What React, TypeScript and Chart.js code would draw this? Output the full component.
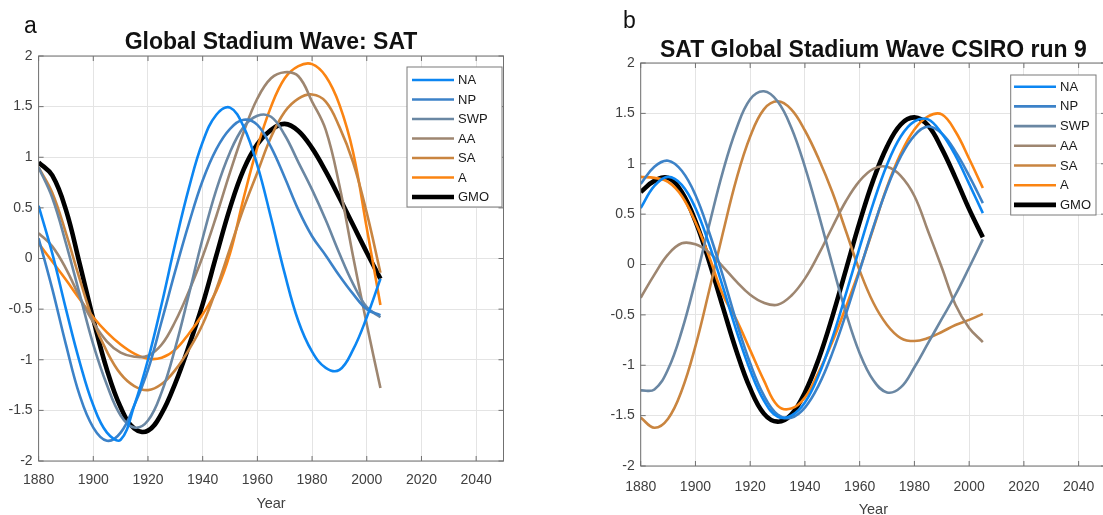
import React, { useEffect, useRef } from "react";
import { Chart, registerables } from "chart.js";

Chart.register(...registerables);

const FONT = "'Liberation Sans', Arial, Helvetica, sans-serif";

const YEARS = [1880, 1885, 1890, 1895, 1900, 1905, 1910, 1915, 1920, 1925, 1930, 1935, 1940, 1945, 1950, 1955, 1960, 1965, 1970, 1975, 1980, 1985, 1990, 1995, 2000, 2005];

const SERIES_NAMES = ["NA", "NP", "SWP", "AA", "SA", "A", "GMO"];
const SERIES_COLORS = ["#0c86f2", "#3c82c8", "#6a87a3", "#9e8670", "#c98540", "#fb8412", "#000000"];
const SERIES_WIDTHS = [2.6, 2.6, 2.6, 2.6, 2.6, 2.6, 4.6];

const X_TICKS = [1880, 1900, 1920, 1940, 1960, 1980, 2000, 2020, 2040];
const Y_TICKS = [-2, -1.5, -1, -0.5, 0, 0.5, 1, 1.5, 2];

// Panel a: Global Stadium Wave: SAT
const A_NA = [0.52, 0.05, -0.5, -1.02, -1.45, -1.72, -1.79, -1.45, -1.0, -0.45, 0.15, 0.7, 1.15, 1.42, 1.49, 1.3, 0.92, 0.4, -0.15, -0.62, -0.92, -1.08, -1.1, -0.9, -0.58, -0.2];
const A_NP = [0.2, -0.3, -0.85, -1.35, -1.67, -1.8, -1.72, -1.45, -1.1, -0.62, -0.12, 0.35, 0.77, 1.08, 1.28, 1.37, 1.32, 1.1, 0.8, 0.48, 0.22, 0.03, -0.17, -0.35, -0.5, -0.56];
const A_SWP = [0.9, 0.6, 0.15, -0.35, -0.85, -1.25, -1.55, -1.67, -1.6, -1.32, -0.88, -0.35, 0.2, 0.68, 1.05, 1.3, 1.41, 1.4, 1.22, 0.95, 0.68, 0.38, 0.05, -0.25, -0.48, -0.58];
const A_AA = [0.25, 0.12, -0.1, -0.38, -0.63, -0.82, -0.93, -0.97, -0.96, -0.85, -0.62, -0.32, 0.02, 0.42, 0.85, 1.25, 1.58, 1.78, 1.84, 1.8, 1.55, 1.27, 0.72, 0.02, -0.65, -1.28];
const A_SA = [0.9, 0.65, 0.25, -0.2, -0.62, -0.92, -1.14, -1.26, -1.3, -1.24, -1.1, -0.9, -0.65, -0.3, 0.1, 0.5, 0.85, 1.2, 1.45, 1.58, 1.62, 1.55, 1.3, 0.95, 0.45, -0.14];
const A_A = [0.15, -0.03, -0.21, -0.4, -0.58, -0.73, -0.85, -0.94, -0.99, -0.98, -0.9, -0.74, -0.55, -0.32, 0.05, 0.6, 1.1, 1.5, 1.78, 1.9, 1.92, 1.8, 1.52, 1.05, 0.3, -0.46];
const A_GMO = [0.95, 0.82, 0.48, -0.05, -0.6, -1.1, -1.47, -1.68, -1.7, -1.53, -1.23, -0.86, -0.45, 0.03, 0.5, 0.88, 1.13, 1.27, 1.33, 1.26, 1.09, 0.86, 0.6, 0.33, 0.06, -0.2];

// Panel b: SAT Global Stadium Wave CSIRO run 9
const B_NA = [0.56, 0.78, 0.87, 0.79, 0.56, 0.2, -0.22, -0.66, -1.05, -1.35, -1.51, -1.5, -1.37, -1.1, -0.73, -0.29, 0.17, 0.61, 0.99, 1.27, 1.42, 1.44, 1.3, 1.08, 0.8, 0.51];
const B_NP = [0.8, 0.97, 1.03, 0.93, 0.69, 0.32, -0.11, -0.57, -0.98, -1.3, -1.49, -1.52, -1.42, -1.2, -0.88, -0.49, -0.06, 0.37, 0.76, 1.07, 1.28, 1.37, 1.3, 1.12, 0.88, 0.61];
const B_SWP = [-1.25, -1.24, -1.04, -0.66, -0.16, 0.39, 0.92, 1.35, 1.64, 1.72, 1.62, 1.36, 0.97, 0.5, 0.0, -0.48, -0.88, -1.15, -1.27, -1.22, -1.02, -0.78, -0.54, -0.3, -0.03, 0.25];
const B_AA = [-0.33, -0.1, 0.1, 0.21, 0.2, 0.12, -0.02, -0.17, -0.3, -0.38, -0.4, -0.31, -0.14, 0.1, 0.37, 0.63, 0.83, 0.95, 0.97, 0.88, 0.68, 0.33, -0.03, -0.4, -0.63, -0.77];
const B_SA = [-1.52, -1.62, -1.53, -1.25, -0.81, -0.26, 0.31, 0.85, 1.27, 1.54, 1.62, 1.54, 1.33, 1.05, 0.72, 0.33, -0.06, -0.38, -0.6, -0.73, -0.76, -0.73, -0.67, -0.6, -0.55, -0.49];
const B_A = [0.87, 0.86, 0.82, 0.68, 0.42, 0.08, -0.3, -0.55, -0.85, -1.15, -1.4, -1.43, -1.32, -1.07, -0.77, -0.42, -0.05, 0.36, 0.77, 1.1, 1.34, 1.47, 1.49, 1.32, 1.05, 0.76];
const B_GMO = [0.72, 0.83, 0.86, 0.72, 0.43, 0.03, -0.42, -0.86, -1.23, -1.48, -1.56, -1.49, -1.27, -0.94, -0.52, -0.05, 0.42, 0.84, 1.17, 1.39, 1.46, 1.38, 1.15, 0.86, 0.55, 0.27];

const PANEL_A_SERIES = [A_NA, A_NP, A_SWP, A_AA, A_SA, A_A, A_GMO];
const PANEL_B_SERIES = [B_NA, B_NP, B_SWP, B_AA, B_SA, B_A, B_GMO];

const decorPlugin = {
  id: "decor",
  beforeDraw(chart: any) {
    const ctx = chart.ctx;
    ctx.save();
    ctx.fillStyle = "#ffffff";
    ctx.fillRect(0, 0, chart.width, chart.height);
    ctx.restore();
  },
  afterDraw(chart: any, _args: any, o: any) {
    const ctx = chart.ctx;
    const ca = chart.chartArea;
    const xs = chart.scales.x;
    const ys = chart.scales.y;
    const cx = (ca.left + ca.right) / 2;
    ctx.save();
    // axes box
    ctx.strokeStyle = "#707070";
    ctx.lineWidth = 1;
    ctx.strokeRect(ca.left, ca.top, ca.right - ca.left, ca.bottom - ca.top);
    // inner tick marks on all four sides
    ctx.beginPath();
    X_TICKS.forEach((v) => {
      const px = xs.getPixelForValue(v);
      ctx.moveTo(px, ca.bottom);
      ctx.lineTo(px, ca.bottom - 5);
      ctx.moveTo(px, ca.top);
      ctx.lineTo(px, ca.top + 5);
    });
    Y_TICKS.forEach((v) => {
      const py = ys.getPixelForValue(v);
      ctx.moveTo(ca.left, py);
      ctx.lineTo(ca.left + 5, py);
      ctx.moveTo(ca.right, py);
      ctx.lineTo(ca.right - 5, py);
    });
    ctx.stroke();
    // title
    ctx.fillStyle = "#111111";
    ctx.font = `bold 23px ${FONT}`;
    ctx.textAlign = "center";
    ctx.textBaseline = "alphabetic";
    ctx.fillText(o.title, cx, o.titleY);
    // panel letter
    ctx.font = `23px ${FONT}`;
    ctx.textAlign = "left";
    ctx.fillText(o.letter, o.letterX, o.letterY);
    // x axis title
    ctx.fillStyle = "#404040";
    ctx.font = `14.5px ${FONT}`;
    ctx.textAlign = "center";
    ctx.textBaseline = "middle";
    ctx.fillText("Year", cx, o.yearY);
    // legend
    const L = o.legend;
    ctx.fillStyle = "#ffffff";
    ctx.fillRect(L.x, L.y, L.w, L.h);
    ctx.strokeStyle = "#7a7a7a";
    ctx.lineWidth = 1;
    ctx.strokeRect(L.x, L.y, L.w, L.h);
    chart.data.datasets.forEach((ds: any, i: number) => {
      const y = L.row0 + i * L.gap;
      ctx.strokeStyle = ds.borderColor;
      ctx.lineWidth = ds.borderWidth;
      ctx.beginPath();
      ctx.moveTo(L.lx0, y);
      ctx.lineTo(L.lx1, y);
      ctx.stroke();
      ctx.fillStyle = "#1a1a1a";
      ctx.font = `13px ${FONT}`;
      ctx.textAlign = "left";
      ctx.textBaseline = "middle";
      ctx.fillText(ds.label, L.tx, y + 0.5);
    });
    ctx.restore();
  },
};

type PanelCfg = {
  left: number;
  width: number;
  series: number[][];
  padTop: number;
  padRight: number;
  yAxisWidth: number;
  xAxisHeight: number;
  xTickPad: number;
  decor: any;
};

function Panel({ cfg }: { cfg: PanelCfg }) {
  const ref = useRef<HTMLCanvasElement | null>(null);
  useEffect(() => {
    if (!ref.current) return;
    const datasets = SERIES_NAMES.map((name, i) => ({
      label: name,
      data: YEARS.map((yr, j) => ({ x: yr, y: cfg.series[i][j] })),
      borderColor: SERIES_COLORS[i],
      backgroundColor: SERIES_COLORS[i],
      borderWidth: SERIES_WIDTHS[i],
      pointRadius: 0,
      tension: 0.4,
      fill: false,
    }));
    const chart = new Chart(ref.current, {
      type: "line",
      data: { datasets },
      options: {
        responsive: false,
        animation: false,
        layout: { padding: { left: 0, right: cfg.padRight, top: cfg.padTop, bottom: 0 } },
        plugins: {
          legend: { display: false },
          tooltip: { enabled: false },
          decor: cfg.decor,
        } as any,
        scales: {
          x: {
            type: "linear",
            min: 1880,
            max: 2050,
            afterFit: (s: any) => {
              s.height = cfg.xAxisHeight;
            },
            afterBuildTicks: (s: any) => {
              s.ticks = X_TICKS.map((v) => ({ value: v }));
            },
            ticks: {
              padding: cfg.xTickPad,
              color: "#404040",
              font: { family: FONT, size: 14 },
              callback: (v: any) => String(v),
              maxRotation: 0,
              autoSkip: false,
            },
            grid: { color: "#e4e4e4", lineWidth: 1, drawTicks: false },
            border: { display: false },
          },
          y: {
            type: "linear",
            min: -2,
            max: 2,
            afterFit: (s: any) => {
              s.width = cfg.yAxisWidth;
            },
            afterBuildTicks: (s: any) => {
              s.ticks = Y_TICKS.map((v) => ({ value: v }));
            },
            ticks: {
              padding: 6,
              color: "#404040",
              font: { family: FONT, size: 14 },
              callback: (v: any) => String(v),
            },
            grid: { color: "#e4e4e4", lineWidth: 1, drawTicks: false },
            border: { display: false },
          },
        },
      },
      plugins: [decorPlugin as any],
    });
    return () => chart.destroy();
  }, []);
  return (
    <canvas
      ref={ref}
      width={cfg.width}
      height={515}
      style={{ position: "absolute", left: cfg.left, top: 0, width: cfg.width, height: 515, display: "block" }}
    />
  );
}

const PANEL_A: PanelCfg = {
  left: 0,
  width: 550,
  series: PANEL_A_SERIES,
  padTop: 56,
  padRight: 46.5,
  yAxisWidth: 38.6,
  xAxisHeight: 54,
  xTickPad: 11,
  decor: {
    title: "Global Stadium Wave: SAT",
    titleY: 49,
    letter: "a",
    letterX: 24,
    letterY: 33,
    yearY: 503.5,
    legend: { x: 407, y: 67, w: 95, h: 140, row0: 80, gap: 19.5, lx0: 412, lx1: 454, tx: 458 },
  },
};

const PANEL_B: PanelCfg = {
  left: 552,
  width: 560,
  series: PANEL_B_SERIES,
  padTop: 63,
  padRight: 6,
  yAxisWidth: 88.7,
  xAxisHeight: 49,
  xTickPad: 13,
  decor: {
    title: "SAT Global Stadium Wave CSIRO run 9",
    titleY: 57,
    letter: "b",
    letterX: 71,
    letterY: 28,
    yearY: 510,
    legend: { x: 458.7, y: 75, w: 85.3, h: 140, row0: 86.7, gap: 19.7, lx0: 462, lx1: 504, tx: 508 },
  },
};

export default function App() {
  return (
    <div
      style={{
        position: "fixed",
        left: 0,
        top: 0,
        width: 1103,
        height: 515,
        overflow: "hidden",
        background: "#ffffff",
      }}
    >
      <Panel cfg={PANEL_A} />
      <Panel cfg={PANEL_B} />
    </div>
  );
}
